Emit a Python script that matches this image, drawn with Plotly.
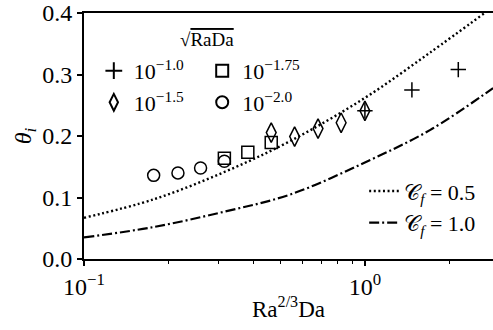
import plotly.graph_objects as go

# --- data ---
plus_x = [1.0, 1.47, 2.15]
plus_y = [0.241, 0.275, 0.308]
square_x = [0.316, 0.383, 0.464]
square_y = [0.164, 0.1735, 0.1895]
diamond_x = [0.464, 0.562, 0.681, 0.823, 1.0]
diamond_y = [0.2055, 0.199, 0.212, 0.2215, 0.241]
circle_x = [0.177, 0.216, 0.260, 0.316]
circle_y = [0.136, 0.140, 0.148, 0.159]

cf05_x = [0.1, 0.177, 0.316, 0.543, 1.0, 1.71, 2.65]
cf05_y = [0.067, 0.097, 0.1415, 0.192, 0.262, 0.336, 0.399]
cf10_x = [0.1, 0.177, 0.316, 0.543, 1.0, 1.71, 2.86]
cf10_y = [0.035, 0.052, 0.077, 0.105, 0.157, 0.210, 0.278]

legend_title = "√<span style='text-decoration:overline'>RaDa</span>"
series_labels = ["10<sup>−1.0</sup>", "10<sup>−1.75</sup>", "10<sup>−1.5</sup>", "10<sup>−2.0</sup>"]
line_labels = ["𝒞<sub><i>f</i></sub> = 0.5", "𝒞<sub><i>f</i></sub> = 1.0"]
xtick_vals = [0.1, 1.0]
xtick_text = ["10<sup>−1</sup>", "10<sup>0</sup>"]
xminor_vals = [0.2, 0.3, 0.4, 0.5, 0.6, 0.7, 0.8, 0.9, 2.0]
ytick_vals = [0.0, 0.1, 0.2, 0.3, 0.4]

FONT = "Liberation Serif"
fig = go.Figure()

fig.add_trace(go.Scatter(x=cf05_x, y=cf05_y, mode="lines", name=line_labels[0],
                         line=dict(color="black", width=2.4, dash="2px,2.6px", shape="spline"),
                         legend="legend2"))
fig.add_trace(go.Scatter(x=cf10_x, y=cf10_y, mode="lines", name=line_labels[1],
                         line=dict(color="black", width=2.2, dash="10px,3px,2px,3px", shape="spline"),
                         legend="legend2"))

mk = dict(color="black", line=dict(color="black", width=1.5))
fig.add_trace(go.Scatter(x=plus_x, y=plus_y, mode="markers", name=series_labels[0],
                         marker=dict(symbol="cross-thin-open", size=11, **mk), legend="legend"))
fig.add_trace(go.Scatter(x=diamond_x, y=diamond_y, mode="markers", name=series_labels[2],
                         marker=dict(symbol="diamond-tall-open", size=14, **mk), legend="legend"))
fig.add_trace(go.Scatter(x=square_x, y=square_y, mode="markers", name=series_labels[1],
                         marker=dict(symbol="square-open", size=12, **mk), legend="legend3"))
fig.add_trace(go.Scatter(x=circle_x, y=circle_y, mode="markers", name=series_labels[3],
                         marker=dict(symbol="circle-open", size=12, **mk), legend="legend3"))

leg_common = dict(bgcolor="rgba(0,0,0,0)", font=dict(size=22), itemwidth=30,
                  tracegroupgap=0, itemsizing="constant", yanchor="top", xanchor="left")

fig.update_layout(
    width=493, height=330,
    margin=dict(l=84, r=0, t=8, b=71),
    plot_bgcolor="white", paper_bgcolor="white",
    font=dict(family=FONT, size=22, color="black"),
    showlegend=True,
    legend=dict(x=0.024, y=0.85, **leg_common),
    legend3=dict(x=0.289, y=0.85, **leg_common),
    legend2=dict(
        x=0.685, y=0.06, xanchor="left", yanchor="bottom",
        bgcolor="rgba(0,0,0,0)", font=dict(size=22), itemwidth=30,
    ),
    annotations=[dict(text=legend_title, x=0.3, y=0.893, xref="paper", yref="paper",
                      xanchor="center", yanchor="middle", showarrow=False, font=dict(size=19))],
    xaxis=dict(
        type="log", range=[-1, 0.456],
        tickvals=xtick_vals, ticktext=xtick_text,
        ticks="outside", ticklen=5, tickwidth=1.5, tickcolor="black",
        minor=dict(tickvals=xminor_vals, ticks="outside", ticklen=3, tickwidth=1,
                   tickcolor="black", showgrid=False),
        showgrid=False, zeroline=False, ticklabeloverflow="allow",
        showline=True, linewidth=2, linecolor="black", mirror=True,
        title=dict(text="Ra<sup>2/3</sup>Da", standoff=2, font=dict(size=23)),
        tickfont=dict(size=24),
    ),
    yaxis=dict(
        range=[0, 0.4], tickvals=ytick_vals, tickformat=".1f",
        ticks="outside", ticklen=5, tickwidth=1.5, tickcolor="black",
        showgrid=False, zeroline=False, ticklabeloverflow="allow",
        showline=True, linewidth=2, linecolor="black", mirror=False,
        title=dict(text="<i>θ<sub>i</sub></i>", standoff=4, font=dict(size=24)),
        tickfont=dict(size=24),
    ),
)

fig.write_html("out.html", config={"displayModeBar": False},
               post_script="document.body.style.margin='0px';")
